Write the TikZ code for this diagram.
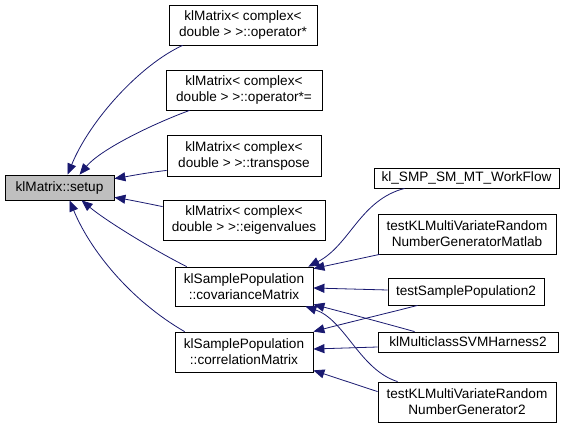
\documentclass[tikz,border=0pt]{standalone}
\usepackage{fontspec}
\setmainfont{Liberation Sans}
\usetikzlibrary{arrows.meta,calc}
\definecolor{edgecol}{HTML}{191970}
\definecolor{setupfill}{HTML}{BFBFBF}
\begin{document}
\begin{tikzpicture}[x=1pt,y=-1pt,
  box/.style={draw=black,line width=0.8pt,fill=white,inner sep=0pt,align=center,
    font=\fontsize{13.6}{16}\selectfont},
  edge/.style={draw=edgecol,line width=0.8pt,-{Triangle[length=11pt,width=9pt]}}]
\useasboundingbox (0,0) rectangle (565,428);
% nodes
\node[box,fill=setupfill,minimum width=109pt,minimum height=25pt] (setup) at (59.5,187.5) {klMatrix::setup};
\node[box,minimum width=148pt,minimum height=40pt] (opmul) at (243,25) {klMatrix< complex<\\ double > >::operator*};
\node[box,minimum width=156pt,minimum height=40pt] (opmuleq) at (244,90) {klMatrix< complex<\\ double > >::operator*=};
\node[box,minimum width=154pt,minimum height=41pt] (transp) at (244,155.5) {klMatrix< complex<\\ double > >::transpose};
\node[box,minimum width=162pt,minimum height=40pt] (eigen) at (244,220) {klMatrix< complex<\\ double > >::eigenvalues};
\node[box,minimum width=138pt,minimum height=39pt] (cov) at (244,286.5) {klSamplePopulation\\::covarianceMatrix};
\node[box,minimum width=138pt,minimum height=40pt] (corr) at (244,352) {klSamplePopulation\\::correlationMatrix};
\node[box,minimum width=185pt,minimum height=20pt] (wf) at (466.5,178) {kl\_SMP\_SM\_MT\_WorkFlow};
\node[box,minimum width=178pt,minimum height=40pt] (matlab) at (467,234) {testKLMultiVariateRandom\\NumberGeneratorMatlab};
\node[box,minimum width=156pt,minimum height=27pt] (tsp) at (466,291.5) {testSamplePopulation2};
\node[box,minimum width=180pt,minimum height=20pt] (svm) at (468,342) {klMulticlassSVMHarness2};
\node[box,minimum width=178pt,minimum height=40pt] (gen) at (467,402) {testKLMultiVariateRandom\\NumberGenerator2};
% edges into setup
\draw[edge] ($(opmul.south west)+(14,0)$) .. controls (140,65) and (90,120) .. ($(setup.north west)+(63,0)$);
\draw[edge] ($(opmuleq.south west)+(24,0)$) .. controls (150,125) and (100,150) .. ($(setup.north west)+(75,0)$);
\draw[edge] ($(transp.south west)+(0,-6)$) .. controls (145,173) and (130,176) .. ($(setup.north east)+(0,4)$);
\draw[edge] ($(eigen.north west)+(0,7)$) .. controls (145,203) and (130,200) .. ($(setup.south east)+(0,-3)$);
\draw[edge] ($(cov.north west)+(12,0)$) .. controls (150,248) and (105,220) .. ($(setup.south west)+(77,0)$);
\draw[edge] ($(corr.north west)+(10,0)$) .. controls (130,300) and (90,250) .. ($(setup.south west)+(65,0)$);
% edges into covariance
\draw[edge] ($(wf.south west)+(31,0)$) .. controls (360,200) and (350,245) .. ($(cov.north east)+(-5,0)$);
\draw[edge] ($(matlab.south west)+(2,0)$) -- ($(cov.north east)+(0,2)$);
\draw[edge] ($(tsp.west)+(0,-1.5)$) -- ($(cov.east)+(0,1.5)$);
\draw[edge] ($(svm.north west)+(37,0)$) .. controls (380,322) and (350,314) .. ($(cov.south east)+(0,-2)$);
\draw[edge] ($(gen.north west)+(20,0)$) .. controls (360,370) and (345,320) .. ($(cov.south east)+(-8,0)$);
% edges into correlation
\draw[edge] ($(tsp.south west)+(30,0)$) .. controls (380,315) and (350,322) .. ($(corr.north east)+(0,0)$);
\draw[edge] ($(svm.west)+(0,5)$) -- ($(corr.east)+(0,-3)$);
\draw[edge] ($(gen.north west)+(0,10)$) -- ($(corr.south east)+(0,-2)$);
\end{tikzpicture}
\end{document}
